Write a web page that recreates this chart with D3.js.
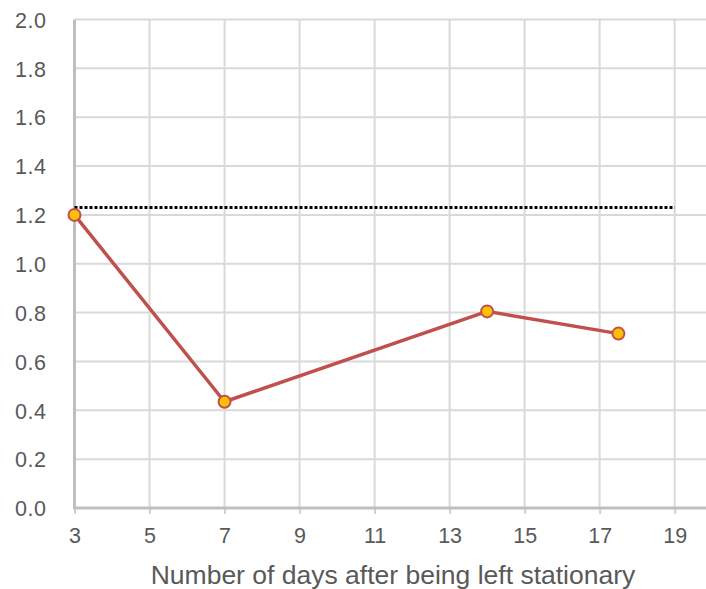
<!DOCTYPE html>
<html><head><meta charset="utf-8">
<script src="https://cdn.jsdelivr.net/npm/d3@7"></script>
<style>body{margin:0;background:#fff}svg{display:block}text{font-family:"Liberation Sans",Arial,sans-serif}</style>
</head><body>
<svg id="c" width="706" height="589"></svg>
<script>
const days = [3, 7, 14, 17.5];
const values = [1.2, 0.435, 0.805, 0.714];
const refLine = {x0: 3, x1: 19, y: 1.23};
const xTicks = [3, 5, 7, 9, 11, 13, 15, 17, 19];
const yTicks = [0, 0.2, 0.4, 0.6, 0.8, 1.0, 1.2, 1.4, 1.6, 1.8, 2.0];
const xLabel = "Number of days after being left stationary";

const svg = d3.select("#c");
const x = d3.scaleLinear().domain([3, 20]).range([74.5, 712.2]);
const y = d3.scaleLinear().domain([0, 2]).range([508, 19.5]);

// grid
svg.append("g").selectAll("line").data(xTicks.slice(1)).join("line")
  .attr("x1", d => x(d)).attr("x2", d => x(d)).attr("y1", y(2)).attr("y2", y(0))
  .attr("stroke", "#d9d9d9").attr("stroke-width", 2);
svg.append("g").selectAll("line").data(yTicks.slice(1)).join("line")
  .attr("x1", x(3)).attr("x2", 706).attr("y1", d => y(d)).attr("y2", d => y(d))
  .attr("stroke", "#d9d9d9").attr("stroke-width", 2);

// x axis
const xa = svg.append("g").attr("transform", `translate(0,${y(0)})`)
  .call(d3.axisBottom(x).tickValues(xTicks).tickSize(6).tickFormat(d3.format("d")));
xa.select(".domain").remove();
xa.append("line").attr("x1", x(3) - 1.5).attr("x2", 706).attr("y1", 0).attr("y2", 0)
  .attr("stroke", "#bfbfbf").attr("stroke-width", 3);
xa.selectAll(".tick line").attr("stroke", "#d0d0d0").attr("stroke-width", 2);
xa.selectAll(".tick text").attr("fill", "#595959").attr("font-size", 21.5)
  .attr("y", 35).attr("dy", 0);

// y axis
const ya = svg.append("g").attr("transform", `translate(${x(3)},0)`)
  .call(d3.axisLeft(y).tickValues(yTicks).tickSize(0).tickPadding(28).tickFormat(d3.format(".1f")));
ya.select(".domain").remove();
ya.append("line").attr("x1", 0).attr("x2", 0).attr("y1", y(2)).attr("y2", y(0))
  .attr("stroke", "#bfbfbf").attr("stroke-width", 3);
ya.selectAll(".tick text").attr("fill", "#595959").attr("font-size", 21.5)
  .attr("dy", "0.36em").attr("letter-spacing", 0.5);

// x label
svg.append("text").attr("x", 393).attr("y", 584).attr("text-anchor", "middle")
  .attr("fill", "#595959").attr("font-size", 26.5).text(xLabel);

// reference dotted line
svg.append("line").attr("x1", x(refLine.x0)).attr("x2", x(refLine.x1))
  .attr("y1", y(refLine.y)).attr("y2", y(refLine.y))
  .attr("stroke", "#000").attr("stroke-width", 3).attr("stroke-dasharray", "3,2");

// series
const pts = days.map((d, i) => [d, values[i]]);
svg.append("path").datum(pts)
  .attr("d", d3.line().x(d => x(d[0])).y(d => y(d[1])))
  .attr("fill", "none").attr("stroke", "#c0504d").attr("stroke-width", 3.5).attr("stroke-linejoin", "round");
svg.append("g").selectAll("circle").data(pts).join("circle")
  .attr("cx", d => x(d[0])).attr("cy", d => y(d[1])).attr("r", 6)
  .attr("fill", "#ffc000").attr("stroke", "#c0504d").attr("stroke-width", 2);
</script>
</body></html>
